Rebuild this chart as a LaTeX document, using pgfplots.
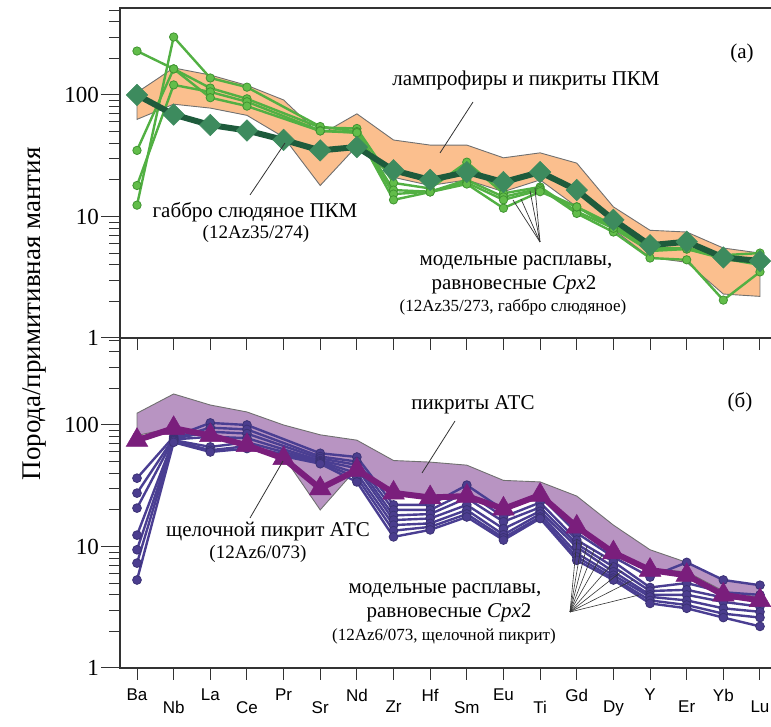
\documentclass[border=0pt]{standalone}
\usepackage{pgfplots}
\pgfplotsset{compat=1.18}
\usepackage{fontspec}
\setmainfont{Liberation Serif}
\newfontfamily\sansf{Liberation Sans}
\definecolor{peach}{HTML}{FBBF8E}
\definecolor{dkgreen}{HTML}{1E5B3C}
\definecolor{diamondfill}{HTML}{3D8B5E}
\definecolor{ltgreen}{HTML}{52B043}
\definecolor{ltgreenfill}{HTML}{62BD4A}
\definecolor{ltgreendraw}{HTML}{3F9431}
\definecolor{mauve}{HTML}{B894C2}
\definecolor{plum}{HTML}{7A1E7C}
\definecolor{indigoL}{HTML}{4A3E92}
\definecolor{indigoF}{HTML}{4B3D8F}
\definecolor{edgegray}{HTML}{707070}
\begin{document}
\begin{tikzpicture}
\path[use as bounding box] (0pt,0pt) rectangle (771pt,727pt);
% ---------------- top panel (a)
\begin{axis}[at={(120pt,389pt)},
    anchor=south west, scale only axis, width=655pt, height=330pt,
    xmin=-0.464, xmax=17.41, ymode=log, ymin=1, ymax=520,
    ytick={1,10,100}, yticklabels={1,10,100},
    minor ytick={2,3,4,5,6,7,8,9,20,30,40,50,60,70,80,90,200,300,400,500},
    xtick={0,...,17}, xticklabels={}, xtick pos=bottom, ytick pos=left,
    tick align=outside, major tick length=19pt, minor tick length=11pt,
    xtick style={/pgfplots/major tick length=12pt},
    axis line style={line width=1.3pt, black!80},
    tick style={line width=1pt, black!80},
    yticklabel style={font=\fontsize{23}{23}\selectfont, inner sep=2pt},
    clip=false]
\addplot[fill=peach, draw=edgegray, line width=0.9pt] coordinates {
 (0,105) (1,167) (2,146) (3,120) (4,91) (5,47) (6,70) (7,42.6) (8,38.7)
 (9,38.7) (10,30.4) (11,33.4) (12,27.5) (13,12) (14,7.7) (15,7.45) (16,5.5) (17,5.0)
 (17,2.2) (16,2.3) (15,4.2) (14,4.6) (13,7.8) (12,12) (11,20) (10,16) (9,20)
 (8,18) (7,21) (6,38) (5,18) (4,45) (3,68) (2,78) (1,84) (0,63)} -- cycle;
\addplot[line width=2.4pt, color=ltgreen, mark=*, mark size=4.2pt, mark options={fill=ltgreenfill, draw=ltgreendraw, line width=0.8pt}] coordinates {(0,230) (1,164) (2,114) (3,93) (5,54) (6,53) (7,18.9) (8,17) (9,28) (10,15.5) (11,17.5) (12,11) (13,8) (14,5.5) (15,5.5) (16,4.8) (17,5)};
\addplot[line width=2.4pt, color=ltgreen, mark=*, mark size=4.2pt, mark options={fill=ltgreenfill, draw=ltgreendraw, line width=0.8pt}] coordinates {(0,12.4) (1,300) (2,138) (3,116) (5,55) (6,50) (7,16.5) (8,16) (9,20) (10,14.5) (11,17) (12,10.6) (13,7.45) (14,4.55) (15,4.4) (16,2.05) (17,3.5)};
\addplot[line width=2.4pt, color=ltgreen, mark=*, mark size=4.2pt, mark options={fill=ltgreenfill, draw=ltgreendraw, line width=0.8pt}] coordinates {(0,18) (1,121) (2,106) (3,88) (5,51) (6,49) (7,15.3) (8,16) (9,19) (10,13.7) (11,16.5) (12,12) (13,8) (14,5.2) (15,5.4) (16,4.5) (17,4)};
\addplot[line width=2.4pt, color=ltgreen, mark=*, mark size=4.2pt, mark options={fill=ltgreenfill, draw=ltgreendraw, line width=0.8pt}] coordinates {(0,35) (1,164) (2,95) (3,81) (5,50.5) (6,49) (7,13.7) (8,15.9) (9,18.5) (10,11.7) (11,16) (12,12) (13,8.5) (14,5.4) (15,5.4) (16,4.6) (17,4.2)};
\addplot[line width=6pt, color=dkgreen, mark=square*, mark size=7.6pt,
  mark options={rotate=45, fill=diamondfill, draw=diamondfill, line width=0.5pt}] coordinates {
 (0,100) (1,69) (2,56.6) (3,51) (4,42.7) (5,35) (6,37.3) (7,24) (8,20) (9,23.2)
 (10,19.2) (11,23.2) (12,16.5) (13,9.4) (14,5.8) (15,6.2) (16,4.6) (17,4.3)};
\end{axis}
% ---------------- bottom panel (b)
\begin{axis}[at={(120pt,59pt)},
    anchor=south west, scale only axis, width=655pt, height=330pt,
    xmin=-0.464, xmax=17.41, ymode=log, ymin=1, ymax=520,
    ytick={1,10,100}, yticklabels={1,10,100},
    minor ytick={2,3,4,5,6,7,8,9,20,30,40,50,60,70,80,90,200,300,400,500},
    xtick pos=bottom, ytick pos=left,
    tick align=outside, major tick length=19pt, minor tick length=11pt,
    xtick style={/pgfplots/major tick length=12pt},
    axis line style={line width=1.3pt, black!80},
    tick style={line width=1pt, black!80},
    yticklabel style={font=\fontsize{23}{23}\selectfont, inner sep=2pt},
    clip=false,
  xtick={0,2,...,16}, xticklabels={Ba,La,Pr,Nd,Hf,Eu,Gd,Y,Yb},
  extra x ticks={1,3,...,17}, extra x tick labels={Nb,Ce,Sr,Zr,Sm,Ti,Dy,Er,Lu},
  extra x tick style={xticklabel style={yshift=-12pt}},
  xticklabel style={font=\sansf\fontsize{17}{17}\selectfont, inner sep=2pt}]
\addplot[fill=mauve, draw=edgegray, line width=0.9pt] coordinates {
 (0,125) (1,180) (2,146) (3,128) (4,100) (5,83) (6,75) (7,51) (8,49.5) (9,46.7)
 (10,35) (11,34) (12,26) (13,15) (14,9.4) (15,7.4) (16,5.3) (17,4.8)
 (17,3.8) (16,4.3) (15,6.2) (14,6.5) (13,9.2) (12,15) (11,27) (10,21) (9,27)
 (8,26) (7,28) (6,44) (5,20) (4,55) (3,70) (2,84) (1,95) (0,82)} -- cycle;
\addplot[line width=2.4pt, color=indigoL, mark=*, mark size=4.4pt, mark options={fill=indigoF, draw=indigoL!80!black, line width=0.8pt}] coordinates {(0,36.5) (1,80) (2,104) (3,100) (5,58.5) (6,54.5) (7,22) (8,22) (9,32) (10,20) (11,26) (12,12.9) (13,8.2) (14,5.6) (15,7.4) (16,5.3) (17,4.8)};
\addplot[line width=2.4pt, color=indigoL, mark=*, mark size=4.4pt, mark options={fill=indigoF, draw=indigoL!80!black, line width=0.8pt}] coordinates {(0,27.5) (1,78) (2,95) (3,92) (5,55) (6,50) (7,20) (8,20) (9,28) (10,17.5) (11,23) (12,11.3) (13,7.5) (14,4.6) (15,5) (16,4.2) (17,4)};
\addplot[line width=2.4pt, color=indigoL, mark=*, mark size=4.4pt, mark options={fill=indigoF, draw=indigoL!80!black, line width=0.8pt}] coordinates {(0,20.7) (1,77) (2,88) (3,85) (5,53) (6,47) (7,18) (8,18.5) (9,25) (10,16) (11,21) (12,10.5) (13,6.8) (14,4.3) (15,4.4) (16,3.8) (17,3.6)};
\addplot[line width=2.4pt, color=indigoL, mark=*, mark size=4.4pt, mark options={fill=indigoF, draw=indigoL!80!black, line width=0.8pt}] coordinates {(0,12.4) (1,76) (2,80) (3,78) (5,51) (6,44) (7,16.5) (8,17) (9,22) (10,14) (11,19.5) (12,9.9) (13,6.2) (14,4.0) (15,4.0) (16,3.5) (17,3.2)};
\addplot[line width=2.4pt, color=indigoL, mark=*, mark size=4.4pt, mark options={fill=indigoF, draw=indigoL!80!black, line width=0.8pt}] coordinates {(0,9.4) (1,75) (2,66) (3,72) (5,50) (6,40) (7,15) (8,15.5) (9,20) (10,12.5) (11,18.5) (12,8.8) (13,5.8) (14,3.85) (15,3.6) (16,3.1) (17,2.9)};
\addplot[line width=2.4pt, color=indigoL, mark=*, mark size=4.4pt, mark options={fill=indigoF, draw=indigoL!80!black, line width=0.8pt}] coordinates {(0,7.3) (1,74) (2,62) (3,67) (5,49) (6,37) (7,13.5) (8,14.5) (9,18.5) (10,11.8) (11,17.5) (12,8.2) (13,5.5) (14,3.6) (15,3.3) (16,2.8) (17,2.6)};
\addplot[line width=2.4pt, color=indigoL, mark=*, mark size=4.4pt, mark options={fill=indigoF, draw=indigoL!80!black, line width=0.8pt}] coordinates {(0,5.3) (1,72) (2,60) (3,64) (5,48) (6,34) (7,12) (8,13.7) (9,17.5) (10,11.3) (11,17) (12,7.7) (13,5.3) (14,3.4) (15,3.1) (16,2.6) (17,2.2)};
\addplot[line width=6pt, color=plum, mark=triangle*, mark size=12.5pt,
  mark options={fill=plum, draw=plum, line width=0.5pt}] coordinates {
 (0,75) (1,94) (2,82) (3,68) (4,53) (5,30) (6,42.6) (7,27.6) (8,25.3) (9,26)
 (10,20.4) (11,26.5) (12,14.5) (13,8.9) (14,6.4) (15,5.8) (16,4.0) (17,3.6)};
\end{axis}
% ---------------- annotations (image pixel coordinates)
\begin{scope}[x=1pt, y=-1pt, yshift=727pt]
\node[rotate=90, font=\fontsize{27}{27}\selectfont] at (34,314) {Порода/примитивная мантия};
\def\fa{\fontsize{21}{21}\selectfont}
\def\fb{\fontsize{19}{19}\selectfont}
\def\fc{\fontsize{17}{17}\selectfont}
\draw[black!80, line width=0.8pt] (473,102) -- (440,153);
\draw[black!80, line width=0.8pt] (250,195) -- (285,143);
\foreach \p in {(513,200),(521,199),(530,191),(535,188)} \draw[black!80, line width=0.7pt] (540,242) -- \p;
\node[font=\fa] at (742,53) {(а)};
\node[font=\fa] at (526,80) {лампрофиры и пикриты ПКМ};
\node[font=\fa] at (255,212) {габбро слюдяное ПКМ};
\node[font=\fb] at (256,234) {(12Az35/274)};
\node[font=\fa] at (516,263) {модельные расплавы,};
\node[font=\fa] at (514,285) {равновесные \textit{Cpx}2};
\node[font=\fc] at (513,307) {(12Az35/273, габбро слюдяное)};
% bottom
\draw[black!80, line width=0.8pt] (455,421) -- (422,473);
\draw[black!80, line width=0.8pt] (250,518) -- (283,461);
\foreach \p in {(577,539),(582,541),(587,546),(594,550),(602,555),(612,564),(622,571),(633,580),(639,595)} \draw[black!80, line width=0.6pt] (570,612) -- \p;
\node[font=\fa] at (740,402) {(б)};
\node[font=\fa] at (473,405) {пикриты АТС};
\node[font=\fa] at (268,532) {щелочной пикрит АТС};
\node[font=\fb] at (258,554) {(12Az6/073)};
\node[font=\fa] at (445,591) {модельные расплавы,};
\node[font=\fa] at (449,613) {равновесные \textit{Cpx}2};
\node[font=\fc] at (444,636) {(12Az6/073, щелочной пикрит)};
\end{scope}
\end{tikzpicture}
\end{document}
